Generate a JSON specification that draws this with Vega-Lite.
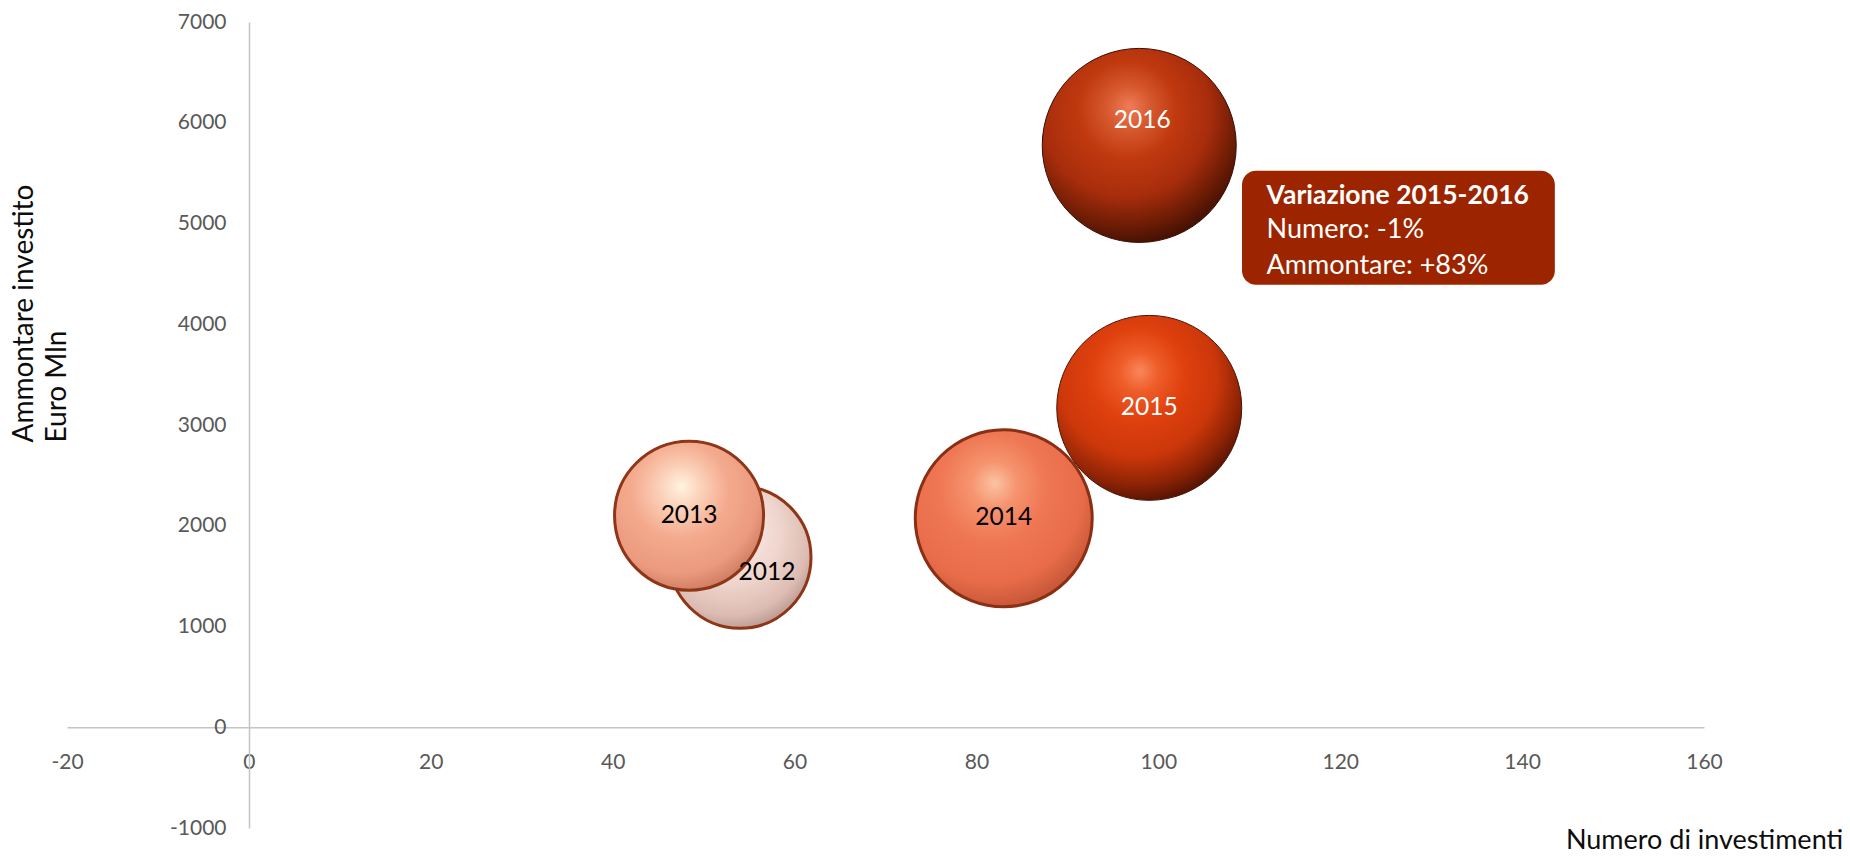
{
  "$schema": "https://vega.github.io/schema/vega-lite/v6.json",
  "width": 1637,
  "height": 806,
  "autosize": {"type": "none"},
  "padding": {"left": 67, "top": 22, "right": 146, "bottom": 28},
  "background": "white",
  "config": {"view": {"stroke": null}, "font": "Lato"},
  "datasets": {
    "bolle": [
      {"anno": "2012", "numero": 54.0, "ammontare": 1687, "dimensione": 53.6},
      {"anno": "2013", "numero": 48.4, "ammontare": 2100, "dimensione": 59.0},
      {"anno": "2014", "numero": 83.0, "ammontare": 2074, "dimensione": 83.2},
      {"anno": "2015", "numero": 99.0, "ammontare": 3170, "dimensione": 90.9},
      {"anno": "2016", "numero": 97.9, "ammontare": 5775, "dimensione": 100}
    ],
    "nota": [
      {"numero": 109.2, "numero2": 143.6, "ammontare": 4392, "ammontare2": 5524}
    ],
    "nota_testo": [
      {"riga": "Variazione 2015-2016", "tipo": "titolo", "numero": 111.9, "ammontare": 5268},
      {"riga": "Numero: -1%", "tipo": "testo", "numero": 111.9, "ammontare": 4938},
      {"riga": "Ammontare: +83%", "tipo": "testo", "numero": 111.9, "ammontare": 4574}
    ]
  },
  "encoding": {
    "x": {
      "field": "numero", "type": "quantitative",
      "scale": {"domain": [-20, 160], "nice": false, "zero": false},
      "axis": {
        "title": "Numero di investimenti",
        "values": [-20, 0, 20, 40, 60, 80, 100, 120, 140, 160],
        "labelExpr": "'' + datum.value",
        "offset": -100.75,
        "ticks": false, "tickSize": 0, "grid": false,
        "domainColor": "#c4c4c4", "domainWidth": 1.5,
        "labelColor": "#595959", "labelFont": "Lato", "labelFontSize": 21,
        "labelPadding": 24, "labelFlush": false, "labelOverlap": false,
        "titleFont": "Lato", "titleFontSize": 27, "titleFontWeight": "normal", "titleColor": "#0d0d0d",
        "titleX": 1637, "titleY": 121, "titleAlign": "center", "titleBaseline": "alphabetic"
      }
    },
    "y": {
      "field": "ammontare", "type": "quantitative",
      "scale": {"domain": [-1000, 7000], "nice": false, "zero": false},
      "axis": {
        "title": ["Ammontare investito", "Euro Mln"],
        "values": [-1000, 0, 1000, 2000, 3000, 4000, 5000, 6000, 7000],
        "labelExpr": "'' + datum.value",
        "offset": -182,
        "ticks": false, "tickSize": 0, "grid": false,
        "domainColor": "#c4c4c4", "domainWidth": 1.5,
        "labelColor": "#595959", "labelFont": "Lato", "labelFontSize": 21,
        "labelPadding": 23, "labelFlush": false, "labelOverlap": false, "labelBound": false,
        "titleFont": "Lato", "titleFontSize": 28, "titleFontWeight": "normal", "titleColor": "#0d0d0d",
        "titleAngle": 270, "titleAlign": "left", "titleBaseline": "alphabetic",
        "titleX": -217, "titleY": 420, "titleLineHeight": 33
      }
    }
  },
  "layer": [
    {
      "data": {"name": "bolle"},
      "transform": [{"filter": "datum.anno == '2012'"}],
      "mark": {
        "type": "point", "shape": "circle", "filled": true, "opacity": 1,
        "fill": {"gradient": "radial", "x1": 0.45, "y1": 0.3, "r1": 0, "x2": 0.42, "y2": 0.36, "r2": 0.72,
          "stops": [
            {"offset": 0, "color": "#fff8f6"},
            {"offset": 0.25, "color": "#f8e3dd"},
            {"offset": 0.5, "color": "#eed4cc"},
            {"offset": 0.78, "color": "#dcbcb2"},
            {"offset": 0.93, "color": "#b89990"},
            {"offset": 1, "color": "#9a7a70"}
          ]},
        "stroke": "#8f3518", "strokeWidth": 3
      },
      "encoding": {
        "size": {"field": "dimensione", "type": "quantitative", "scale": {"domain": [0, 100], "range": [0, 37636]}, "legend": null}
      }
    },
    {
      "data": {"name": "bolle"},
      "transform": [{"filter": "datum.anno == '2013'"}],
      "mark": {
        "type": "point", "shape": "circle", "filled": true, "opacity": 1,
        "fill": {"gradient": "radial", "x1": 0.45, "y1": 0.3, "r1": 0, "x2": 0.42, "y2": 0.36, "r2": 0.72,
          "stops": [
            {"offset": 0, "color": "#fff3e0"},
            {"offset": 0.2, "color": "#fbd0b8"},
            {"offset": 0.45, "color": "#f4aa8e"},
            {"offset": 0.75, "color": "#eb9a7e"},
            {"offset": 0.92, "color": "#cf7d63"},
            {"offset": 1, "color": "#b3654e"}
          ]},
        "stroke": "#8f3518", "strokeWidth": 3
      },
      "encoding": {
        "size": {"field": "dimensione", "type": "quantitative", "legend": null}
      }
    },
    {
      "data": {"name": "bolle"},
      "transform": [{"filter": "datum.anno == '2014'"}],
      "mark": {
        "type": "point", "shape": "circle", "filled": true, "opacity": 1,
        "fill": {"gradient": "radial", "x1": 0.45, "y1": 0.3, "r1": 0, "x2": 0.42, "y2": 0.36, "r2": 0.72,
          "stops": [
            {"offset": 0, "color": "#fbc3a3"},
            {"offset": 0.18, "color": "#f6946f"},
            {"offset": 0.42, "color": "#ef7754"},
            {"offset": 0.72, "color": "#e86c4a"},
            {"offset": 0.9, "color": "#c85838"},
            {"offset": 1, "color": "#a8452b"}
          ]},
        "stroke": "#8a2e14", "strokeWidth": 3
      },
      "encoding": {
        "size": {"field": "dimensione", "type": "quantitative", "legend": null}
      }
    },
    {
      "data": {"name": "bolle"},
      "transform": [{"filter": "datum.anno == '2015'"}],
      "mark": {
        "type": "point", "shape": "circle", "filled": true, "opacity": 1,
        "fill": {"gradient": "radial", "x1": 0.45, "y1": 0.3, "r1": 0, "x2": 0.42, "y2": 0.35, "r2": 0.72,
          "stops": [
            {"offset": 0, "color": "#f8875c"},
            {"offset": 0.15, "color": "#ee5c28"},
            {"offset": 0.35, "color": "#df400e"},
            {"offset": 0.6, "color": "#cc370a"},
            {"offset": 0.8, "color": "#8c2305"},
            {"offset": 1, "color": "#380b02"}
          ]},
        "stroke": "#4a1204", "strokeWidth": 1
      },
      "encoding": {
        "size": {"field": "dimensione", "type": "quantitative", "legend": null}
      }
    },
    {
      "data": {"name": "bolle"},
      "transform": [{"filter": "datum.anno == '2016'"}],
      "mark": {
        "type": "point", "shape": "circle", "filled": true, "opacity": 1,
        "fill": {"gradient": "radial", "x1": 0.45, "y1": 0.3, "r1": 0, "x2": 0.42, "y2": 0.35, "r2": 0.72,
          "stops": [
            {"offset": 0, "color": "#f07c58"},
            {"offset": 0.15, "color": "#d85a30"},
            {"offset": 0.35, "color": "#c0390f"},
            {"offset": 0.6, "color": "#a82d0c"},
            {"offset": 0.8, "color": "#6c1c05"},
            {"offset": 1, "color": "#2e0a01"}
          ]},
        "stroke": "#3a0c02", "strokeWidth": 1
      },
      "encoding": {
        "size": {"field": "dimensione", "type": "quantitative", "legend": null}
      }
    },
    {
      "data": {"name": "bolle"},
      "transform": [{"filter": "datum.anno == '2013' || datum.anno == '2014' || datum.anno == '2015'"}],
      "mark": {"type": "text", "font": "Lato", "fontSize": 24.5, "align": "center", "baseline": "middle"},
      "encoding": {
        "text": {"field": "anno"},
        "color": {"condition": {"test": "datum.anno == '2015'", "value": "#ffffff"}, "value": "#000000"}
      }
    },
    {
      "data": {"name": "bolle"},
      "transform": [{"filter": "datum.anno == '2012'"}],
      "mark": {"type": "text", "font": "Lato", "fontSize": 24.5, "align": "center", "baseline": "middle", "dx": 27, "dy": 16, "color": "#000000"},
      "encoding": {
        "text": {"field": "anno"}
      }
    },
    {
      "data": {"name": "bolle"},
      "transform": [{"filter": "datum.anno == '2016'"}],
      "mark": {"type": "text", "font": "Lato", "fontSize": 24.5, "align": "center", "baseline": "middle", "dx": 3, "dy": -24, "color": "#ffffff"},
      "encoding": {
        "text": {"field": "anno"}
      }
    },
    {
      "data": {"name": "nota"},
      "mark": {"type": "rect", "color": "#9c2500", "cornerRadius": 14, "opacity": 1},
      "encoding": {
        "x2": {"field": "numero2"},
        "y2": {"field": "ammontare2"}
      }
    },
    {
      "data": {"name": "nota_testo"},
      "transform": [{"filter": "datum.tipo == 'titolo'"}],
      "mark": {"type": "text", "font": "Lato", "fontSize": 26.5, "fontWeight": "bold", "align": "left", "baseline": "middle", "color": "#ffffff"},
      "encoding": {
        "text": {"field": "riga"}
      }
    },
    {
      "data": {"name": "nota_testo"},
      "transform": [{"filter": "datum.tipo == 'testo'"}],
      "mark": {"type": "text", "font": "Lato", "fontSize": 27, "align": "left", "baseline": "middle", "color": "#ffffff"},
      "encoding": {
        "text": {"field": "riga"}
      }
    }
  ]
}
